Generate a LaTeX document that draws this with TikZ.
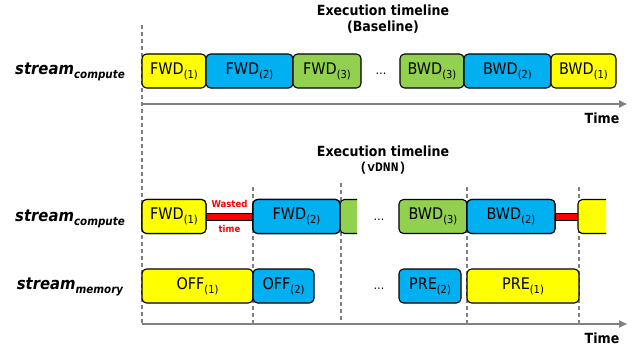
\documentclass[tikz,border=0pt]{standalone}
\usepackage{fontspec}
\setmainfont{DejaVu Sans Condensed}
\newfontfamily\monof{Liberation Mono}
\usetikzlibrary{arrows.meta}
\definecolor{cyel}{HTML}{FFFF00}
\definecolor{cblue}{HTML}{00B0F0}
\definecolor{cgreen}{HTML}{92D050}
\definecolor{cred}{HTML}{FF0000}
\definecolor{cgray}{HTML}{808080}
\newcommand\lsub[1]{\raisebox{-0.45ex}{\fontsize{11}{11}\selectfont(#1)}}
\newcommand\ssub[1]{\raisebox{-0.5ex}{\fontsize{11.5}{11.5}\selectfont\bfseries\itshape #1}}
\begin{document}
\begin{tikzpicture}[x=1pt,y=-1pt,
  blk/.style={draw=black, line width=1.1pt, rounded corners=4.5pt, minimum height=34pt, inner sep=0pt, font=\fontsize{16}{16}\selectfont},
  part/.style={draw=black, line width=1.1pt, rounded corners=4.5pt},
  dashv/.style={draw=cgray, line width=1.1pt, dash pattern=on 4pt off 3pt},
  axis/.style={draw=cgray, line width=1.8pt, -{Triangle[length=8pt,width=7pt]}},
  redbar/.style={fill=cred, draw=black, line width=0.8pt},
  ttl/.style={font=\fontsize{14}{14}\selectfont\bfseries, inner sep=0pt},
  lbl/.style={font=\fontsize{16.5}{16.5}\selectfont\bfseries\itshape, inner sep=0pt},
  dts/.style={font=\fontsize{12}{12}\selectfont, inner sep=0pt},
  wst/.style={font=\fontsize{9.5}{9.5}\selectfont\bfseries, text=cred, inner sep=0pt}
]
\useasboundingbox (0,0) rectangle (632,351);
% titles
\node[ttl] (t1) at (383,10) {Execution timeline};
\node[ttl] (t1b) at (383,27) {(Baseline)};
\node[ttl] (t2) at (383,151) {Execution timeline};
\node[font=\fontsize{13}{13}\selectfont\monof\bfseries, inner sep=0pt] (t2b) at (383,168) {(vDNN)};
% row labels
\node[lbl] (l1) at (70,72) {stream\ssub{compute}};
\node[lbl] (l2) at (70,219) {stream\ssub{compute}};
\node[lbl] (l3) at (70,287) {stream\ssub{memory}};
% dashed verticals
\coordinate (d0a) at (142,25); \coordinate (d0b) at (142,324);
\coordinate (d1a) at (253,187); \coordinate (d1b) at (253,324);
\coordinate (d2a) at (341,183); \coordinate (d2b) at (341,324);
\coordinate (d3a) at (467,187); \coordinate (d3b) at (467,324);
\coordinate (d4a) at (579,187); \coordinate (d4b) at (579,324);
\foreach \i in {0,...,4} {\draw[dashv] (d\i a) -- (d\i b);}
% axes
\coordinate (a1s) at (142,104); \coordinate (a1e) at (627,104);
\coordinate (a2s) at (142,324); \coordinate (a2e) at (627,324);
\draw[axis] (a1s) -- (a1e);
\draw[axis] (a2s) -- (a2e);
\node[ttl] (time1) at (602,118) {Time};
\node[ttl] (time2) at (602,338) {Time};
% top (baseline) row
\node[blk, fill=cyel, minimum width=64pt] (tf1) at (174,71) {FWD\lsub{1}};
\node[blk, fill=cblue, minimum width=87pt] (tf2) at (249.5,71) {FWD\lsub{2}};
\node[blk, fill=cgreen, minimum width=68pt] (tf3) at (327,71) {FWD\lsub{3}};
\node[dts] (td) at (381,74) {\dots};
\node[blk, fill=cgreen, minimum width=64pt] (tb3) at (432,71) {BWD\lsub{3}};
\node[blk, fill=cblue, minimum width=87pt] (tb2) at (507.5,71) {BWD\lsub{2}};
\node[blk, fill=cyel, minimum width=65pt] (tb1) at (583.5,71) {BWD\lsub{1}};
% vDNN compute row
\node[blk, fill=cyel, minimum width=64pt] (cf1) at (174,216.5) {FWD\lsub{1}};
\node[blk, fill=cblue, minimum width=87pt] (cf2) at (296.5,216.5) {FWD\lsub{2}};
\draw[redbar] ([yshift=3.5pt]cf1.east) rectangle ([yshift=-3.5pt]cf2.west);
\node[blk, fill=cyel, minimum width=64pt] (cf1) at (174,216.5) {FWD\lsub{1}};
\node[blk, fill=cblue, minimum width=87pt] (cf2) at (296.5,216.5) {FWD\lsub{2}};
\node[wst] (w1) at (229.5,204) {Wasted};
\node[wst] (w2) at (229.5,229) {time};
\path[part, fill=cgreen] (357,199.5) -- (340,199.5) -- (340,233.5) -- (357,233.5);
\node[blk, fill=cblue, minimum width=87pt] (cf2) at (296.5,216.5) {FWD\lsub{2}};
\node[dts] (cd) at (379,219.5) {\dots};
\node[blk, fill=cgreen, minimum width=68pt] (cb3) at (433,216.5) {BWD\lsub{3}};
\node[blk, fill=cblue, minimum width=88pt] (cb2) at (511,216.5) {BWD\lsub{2}};
\coordinate (yp) at (578,216.5);
\draw[redbar] ([yshift=3.5pt]cb2.east) rectangle ([yshift=-3.5pt]yp);
\node[blk, fill=cblue, minimum width=88pt] (cb2) at (511,216.5) {BWD\lsub{2}};
\path[part, fill=cyel] (606,199.5) -- (578,199.5) -- (578,233.5) -- (606,233.5);
% vDNN memory row
\node[blk, fill=cyel, minimum width=111pt] (m1) at (197.5,286) {OFF\lsub{1}};
\node[blk, fill=cblue, minimum width=61pt] (m2) at (283.5,286) {OFF\lsub{2}};
\node[dts] (md) at (379,289) {\dots};
\node[blk, fill=cblue, minimum width=62pt] (p2) at (430,286) {PRE\lsub{2}};
\node[blk, fill=cyel, minimum width=112pt] (p1) at (523,286) {PRE\lsub{1}};
\end{tikzpicture}
\end{document}
